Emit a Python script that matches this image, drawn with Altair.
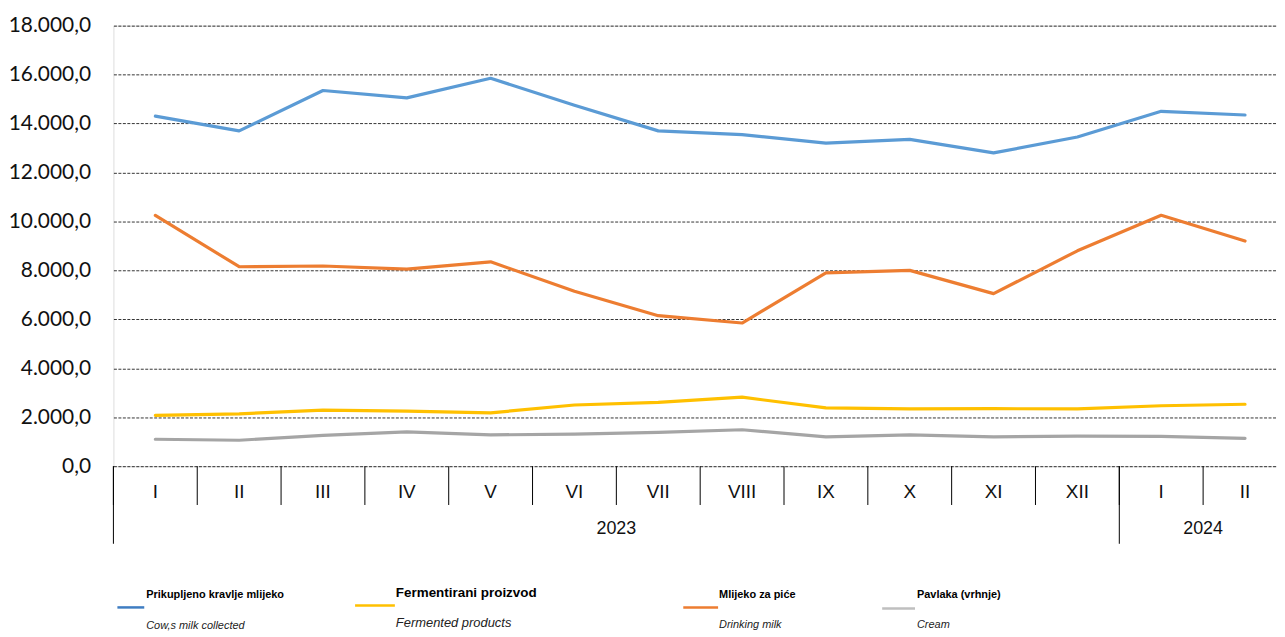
import altair as alt
import pandas as pd

# ---------------- data ----------------
months = ["I", "II", "III", "IV", "V", "VI", "VII", "VIII", "IX", "X", "XI", "XII", "I", "II"]
years = [2023] * 12 + [2024] * 2
cow_milk = [14300, 13700, 15350, 15050, 15850, 14750, 13700, 13550, 13200, 13350, 12800, 13450, 14500, 14350]
drinking_milk = [10250, 8150, 8180, 8050, 8350, 7150, 6150, 5850, 7900, 8000, 7050, 8800, 10250, 9200]
fermented = [2080, 2140, 2290, 2250, 2180, 2500, 2610, 2820, 2380, 2340, 2350, 2340, 2470, 2530]
cream = [1100, 1060, 1260, 1400, 1280, 1310, 1380, 1490, 1200, 1280, 1200, 1230, 1220, 1140]

series_names = ["Prikupljeno kravlje mlijeko", "Fermentirani proizvod", "Mlijeko za piće", "Pavlaka (vrhnje)"]
series_en = ["Cow,s milk collected", "Fermented products", "Drinking milk", "Cream"]
series_values = [cow_milk, fermented, drinking_milk, cream]
line_colors = ["#5B9BD5", "#FFC000", "#ED7D31", "#A5A5A5"]
legend_colors = ["#3F7DC2", "#FFC000", "#ED7D31", "#BFBFBF"]
y_ticks = [0, 2000, 4000, 6000, 8000, 10000, 12000, 14000, 16000, 18000]

keys = [f"{y}-{m}" for y, m in zip(years, months)]

rows = []
for name, vals in zip(series_names, series_values):
    for k, v in zip(keys, vals):
        rows.append({"key": k, "series": name, "value": v})
df = pd.DataFrame(rows)

cat_df = pd.DataFrame({"key": keys, "month": months, "year": years})
year_start_df = cat_df.drop_duplicates("year", keep="first")
year_label_df = pd.DataFrame({"key": ["2023-VII", "2024-II"], "year": ["2023", "2024"]})

# ---------------- layout ----------------
W, H = 1180, 443
NARROW = "Liberation Sans Narrow, Arial Narrow, Liberation Sans"

xscale = alt.Scale(type="band", paddingInner=0, paddingOuter=0)


def X(bp, axis=None):
    return alt.X("key:N", sort=keys, scale=xscale, bandPosition=bp, axis=axis, title=None)


lab_expr = ("replace(replace(replace(format(datum.value, ',.1f'), ',', '#'), '.', ','), '#', '.')")

lines = alt.Chart(df).mark_line(strokeWidth=3.2, strokeJoin="round", strokeCap="round").encode(
    x=X(0.5, alt.Axis(domain=True, domainColor="#000", domainWidth=1.3, labels=False, ticks=False, grid=False)),
    y=alt.Y("value:Q", scale=alt.Scale(domain=[0, 18000], nice=False),
            axis=alt.Axis(values=y_ticks, grid=True, gridDash=[3, 1.5], gridColor="#000", gridWidth=0.8,
                          domain=False, ticks=False, labelPadding=23, labelFontSize=21, labelFont="Lato",
                          labelColor="#111", labelExpr=lab_expr, title=None)),
    color=alt.Color("series:N", scale=alt.Scale(domain=series_names, range=line_colors), legend=None),
    detail="series:N",
)

short_sep = alt.Chart(cat_df).mark_rule(color="#000", strokeWidth=1).encode(
    x=X(0), y=alt.value(H), y2=alt.value(H + 39)
)
long_sep = alt.Chart(year_start_df).mark_rule(color="#000", strokeWidth=1).encode(
    x=X(0), y=alt.value(H), y2=alt.value(H + 78)
)
month_labels = alt.Chart(cat_df).mark_text(font=NARROW, fontSize=19, baseline="middle", color="#111").encode(
    x=X(0.5), y=alt.value(H + 26), text="month:N"
)
year_labels = alt.Chart(year_label_df).mark_text(font=NARROW, fontSize=18, baseline="middle", color="#111").encode(
    x=X(0), y=alt.value(H + 63), text="year:N"
)

layers = [lines, short_sep, long_sep, month_labels, year_labels]

# ---------------- legend (manual, two-line labels) ----------------
legend_pos = [  # (line x0, line x1, line y, text x, title y, subtitle y, title size, subtitle size)
    (4, 31, 585, 33, 573, 604, 11, 11),
    (243, 283, 583, 284, 571, 601, 13.5, 13),
    (573, 608, 585, 609, 573, 603, 11, 11),
    (773, 806, 586, 808, 573, 603, 11, 11),
]
one = pd.DataFrame({"a": [0]})
for i, (x0, x1, ly, tx, ty, sy, ts, ss) in enumerate(legend_pos):
    layers.append(alt.Chart(one).mark_rule(color=legend_colors[i], strokeWidth=2.5).encode(
        x=alt.value(x0), x2=alt.value(x1), y=alt.value(ly)))
    layers.append(alt.Chart(one).mark_text(font=NARROW, fontSize=ts, fontWeight="bold", align="left",
                                           baseline="middle", color="#000").encode(
        x=alt.value(tx), y=alt.value(ty), text=alt.value(series_names[i])))
    layers.append(alt.Chart(one).mark_text(font=NARROW, fontSize=ss, fontStyle="italic", align="left",
                                           baseline="middle", color="#222").encode(
        x=alt.value(tx), y=alt.value(sy), text=alt.value(series_en[i])))

chart = alt.layer(*layers).properties(
    width=W, height=H,
    padding={"left": 106, "top": 16, "right": -10, "bottom": 167},
    autosize=alt.AutoSizeParams(type="none"),
).configure_view(stroke=None).configure(background="white")

chart.save("out.html", embed_options={"renderer": "svg", "actions": False})
